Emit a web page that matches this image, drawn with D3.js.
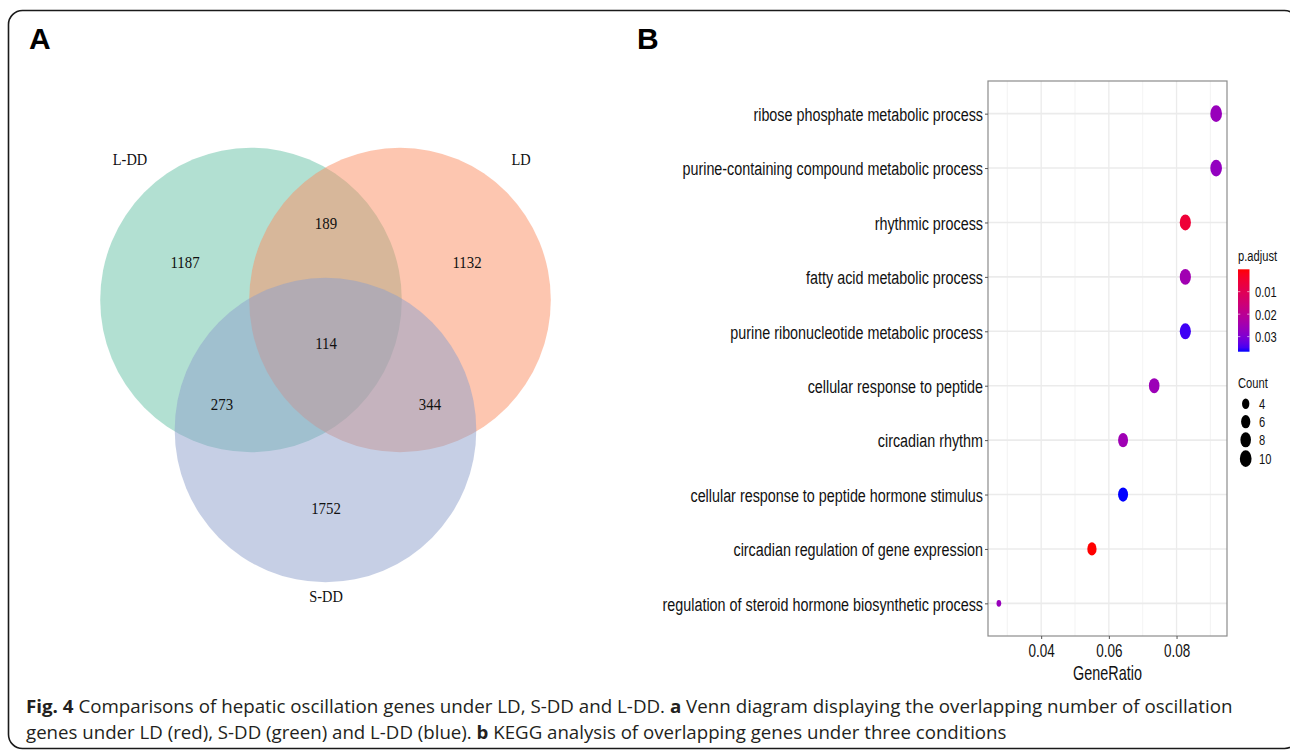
<!DOCTYPE html>
<html>
<head>
<meta charset="utf-8">
<script src="https://cdnjs.cloudflare.com/ajax/libs/d3/7.8.5/d3.min.js"></script>
<style>
  body { margin: 0; background: #fff; }
  svg text { font-family: "Liberation Sans", Arial, sans-serif; }
</style>
</head>
<body>
<div id="chart"></div>
<script>
// ---- data ----
const vennSets = ['L-DD', 'LD', 'S-DD'];
const vennRegions = ['L-DD', 'LD', 'S-DD', 'L-DD&LD', 'L-DD&S-DD', 'LD&S-DD', 'all'];
const vennCounts = [1187, 1132, 1752, 189, 273, 344, 114];

const terms = [
  'ribose phosphate metabolic process',
  'purine-containing compound metabolic process',
  'rhythmic process',
  'fatty acid metabolic process',
  'purine ribonucleotide metabolic process',
  'cellular response to peptide',
  'circadian rhythm',
  'cellular response to peptide hormone stimulus',
  'circadian regulation of gene expression',
  'regulation of steroid hormone biosynthetic process'
];
const geneRatio = [0.0917, 0.0917, 0.0826, 0.0826, 0.0826, 0.0734, 0.0642, 0.0642, 0.0550, 0.0275];
const geneCount = [10, 10, 9, 9, 9, 8, 7, 7, 6, 3];
const pAdjust = [0.0264, 0.0272, 0.0055, 0.0250, 0.0352, 0.0257, 0.0253, 0.0367, 0.00004, 0.0264];

const xTicks = [0.04, 0.06, 0.08];
const xMinor = [0.03, 0.05, 0.07, 0.09];
const pTicks = [0.01, 0.02, 0.03];
const countTicks = [4, 6, 8, 10];

// ---- layout (not data) ----
const W = 1290, H = 751;
const vennCircle = {
  'L-DD': { cx: 251, cy: 300 },
  'LD':   { cx: 400, cy: 300 },
  'S-DD': { cx: 325.5, cy: 430 }
};
const vennName = {   // set name label anchor
  'L-DD': [130, 165], 'LD': [521, 165], 'S-DD': [326, 602]
};
const vennLabel = {
  'L-DD': [185, 268], 'LD': [467, 268], 'S-DD': [326, 514],
  'L-DD&LD': [326, 229], 'L-DD&S-DD': [222, 410], 'LD&S-DD': [430, 410], 'all': [326, 349]
};

const svg = d3.select('#chart').append('svg')
  .attr('width', W)
  .attr('height', H);

svg.append('rect').attr('width', W).attr('height', H).attr('fill', '#fff');

// outer frame
svg.append('rect')
  .attr('x', 8.5).attr('y', 10.5)
  .attr('width', 1290).attr('height', 738)
  .attr('rx', 14).attr('ry', 14)
  .attr('fill', 'none')
  .attr('stroke', '#1a1a1a')
  .attr('stroke-width', 1.6);

// panel letters
svg.append('text').attr('x', 29).attr('y', 49).attr('font-size', 30).attr('font-weight', 'bold').text('A');
svg.append('text').attr('x', 637).attr('y', 49).attr('font-size', 30).attr('font-weight', 'bold').text('B');

//Venn----------------------------------------
const setColor = d3.scaleOrdinal().domain(vennSets).range(d3.schemeSet2);

svg.append('g').selectAll('ellipse')
  .data(vennSets)
  .enter()
  .append('ellipse')
  .attr('cx', d => vennCircle[d].cx)
  .attr('cy', d => vennCircle[d].cy)
  .attr('rx', 150.8)
  .attr('ry', 152.3)
  .attr('fill', d => setColor(d))
  .attr('fill-opacity', 0.5);

const serif = '"Liberation Serif", "Times New Roman", serif';
svg.append('g').selectAll('text')
  .data(vennSets)
  .enter()
  .append('text')
  .attr('transform', d => `translate(${vennName[d][0]},${vennName[d][1]}) scale(0.9,1)`)
  .attr('text-anchor', 'middle')
  .style('font-family', serif)
  .attr('font-size', 16)
  .attr('fill', '#111')
  .text(d => d);

svg.append('g').selectAll('text')
  .data(vennRegions)
  .enter()
  .append('text')
  .attr('transform', d => `translate(${vennLabel[d][0]},${vennLabel[d][1]}) scale(0.9,1)`)
  .attr('text-anchor', 'middle')
  .style('font-family', serif)
  .attr('font-size', 16.5)
  .attr('fill', '#111')
  .text((d, i) => vennCounts[i]);

//Dot plot------------------------------------
const px = { left: 988, right: 1227, top: 81, bottom: 636 };
const sx = 0.755; // glyphs in the source are squeezed horizontally

const xExt = d3.extent(geneRatio);
const span = xExt[1] - xExt[0];
const x = d3.scaleLinear()
  .domain([xExt[0] - 0.05 * span, xExt[1] + 0.05 * span])
  .range([px.left, px.right]);
const y = d3.scalePoint()
  .domain(terms)
  .range([px.top, px.bottom])
  .padding(0.6);
const pExt = d3.extent(pAdjust);
const color = d3.scaleLinear().domain(pExt).range(['red', 'blue']).interpolate(d3.interpolateLab);
const cExt = d3.extent(geneCount);
const sizeT = d3.scaleLinear().domain(cExt).range([0, 1]);
const pointSize = c => 1 + 5 * Math.sqrt(sizeT(c)); // ggplot area scale, range 1..6
const dotH = c => 4.7 + 2 * pointSize(c);

svg.append('rect')
  .attr('x', px.left).attr('y', px.top)
  .attr('width', px.right - px.left).attr('height', px.bottom - px.top)
  .attr('fill', '#fff');

// grid
svg.append('g').selectAll('line')
  .data(xMinor)
  .enter()
  .append('line')
  .attr('x1', d => x(d)).attr('x2', d => x(d))
  .attr('y1', px.top).attr('y2', px.bottom)
  .attr('stroke', '#f0f0f0')
  .attr('stroke-width', 0.8);
svg.append('g').selectAll('line')
  .data(xTicks)
  .enter()
  .append('line')
  .attr('x1', d => x(d)).attr('x2', d => x(d))
  .attr('y1', px.top).attr('y2', px.bottom)
  .attr('stroke', '#ebebeb')
  .attr('stroke-width', 1.3);
svg.append('g').selectAll('line')
  .data(terms)
  .enter()
  .append('line')
  .attr('x1', px.left).attr('x2', px.right)
  .attr('y1', d => y(d)).attr('y2', d => y(d))
  .attr('stroke', '#ebebeb')
  .attr('stroke-width', 1.6);

// dots
svg.append('g').selectAll('ellipse')
  .data(terms)
  .enter()
  .append('ellipse')
  .attr('cx', (d, i) => x(geneRatio[i]))
  .attr('cy', d => y(d))
  .attr('ry', (d, i) => dotH(geneCount[i]) / 2)
  .attr('rx', (d, i) => dotH(geneCount[i]) / 2 * 0.7)
  .attr('fill', (d, i) => color(pAdjust[i]));

// border
svg.append('rect')
  .attr('x', px.left).attr('y', px.top)
  .attr('width', px.right - px.left).attr('height', px.bottom - px.top)
  .attr('fill', 'none')
  .attr('stroke', '#8c8c8c')
  .attr('stroke-width', 1.2);

// X axis
const gx = svg.append('g')
  .attr('transform', `translate(0,${px.bottom})`)
  .call(d3.axisBottom(x).tickValues(xTicks).tickFormat(d3.format('.2f')).tickSize(3).tickPadding(6))
  .attr('font-size', 17.5);
gx.select('.domain').remove();
gx.selectAll('line').attr('stroke', '#555');
gx.selectAll('text').attr('fill', '#111').attr('transform', 'scale(0.77,1)');

// Y axis
const gy = svg.append('g')
  .attr('transform', `translate(${px.left},0)`)
  .call(d3.axisLeft(y).tickSize(3).tickPadding(2))
  .attr('font-size', 19);
gy.select('.domain').remove();
gy.selectAll('line').attr('stroke', '#555');
gy.selectAll('text')
  .attr('fill', '#111')
  .attr('x', -5 / sx)
  .attr('dy', '0.36em')
  .attr('transform', `scale(${sx},1)`);

// X label
svg.append('text')
  .attr('transform', `translate(${(px.left + px.right) / 2},680) scale(0.72,1)`)
  .attr('text-anchor', 'middle')
  .attr('font-size', 20)
  .attr('fill', '#111')
  .text('GeneRatio');

//Legends-------------------------------------
const lx = 1238;
const lfs = 15.5;
svg.append('text')
  .attr('transform', `translate(${lx},260.5) scale(0.72,1)`)
  .attr('font-size', lfs).attr('fill', '#111')
  .text('p.adjust');

const bar = { y0: 269.3, y1: 351.7, w: 11.5 };
const barY = d3.scaleLinear().domain(pExt).range([bar.y0, bar.y1]);
const grad = svg.append('defs').append('linearGradient')
  .attr('id', 'pgrad')
  .attr('x1', 0).attr('x2', 0).attr('y1', 0).attr('y2', 1);
grad.selectAll('stop')
  .data(d3.range(0, 1.0001, 0.05))
  .enter()
  .append('stop')
  .attr('offset', d => d)
  .attr('stop-color', d => color(pExt[0] + d * (pExt[1] - pExt[0])));
svg.append('rect')
  .attr('x', lx).attr('y', bar.y0)
  .attr('width', bar.w).attr('height', bar.y1 - bar.y0)
  .attr('fill', 'url(#pgrad)');
const pt = svg.append('g').selectAll('g')
  .data(pTicks)
  .enter()
  .append('g');
pt.append('line')
  .attr('x1', lx).attr('x2', lx + 2.3)
  .attr('y1', d => barY(d)).attr('y2', d => barY(d))
  .attr('stroke', '#fff').attr('stroke-opacity', 0.6);
pt.append('line')
  .attr('x1', lx + bar.w - 2.3).attr('x2', lx + bar.w)
  .attr('y1', d => barY(d)).attr('y2', d => barY(d))
  .attr('stroke', '#fff').attr('stroke-opacity', 0.6);
pt.append('text')
  .attr('transform', d => `translate(1255,${barY(d) + 5.5}) scale(0.72,1)`)
  .attr('font-size', lfs).attr('fill', '#111')
  .text(d => d3.format('.2f')(d));

svg.append('text')
  .attr('transform', `translate(${lx},388) scale(0.72,1)`)
  .attr('font-size', lfs).attr('fill', '#111')
  .text('Count');

// legend keys grow with the point size
const keyH = countTicks.map(c => Math.max(18, dotH(c) + 3));
let acc = 394.7;
const keyY = keyH.map(h => { const c = acc + h / 2; acc += h; return c; });
const kg = svg.append('g').selectAll('g')
  .data(countTicks)
  .enter()
  .append('g');
kg.append('ellipse')
  .attr('cx', 1245.7)
  .attr('cy', (d, i) => keyY[i])
  .attr('ry', d => dotH(d) / 2)
  .attr('rx', d => dotH(d) / 2 * 0.7)
  .attr('fill', '#000');
kg.append('text')
  .attr('transform', (d, i) => `translate(1259,${keyY[i] + 5.5}) scale(0.72,1)`)
  .attr('font-size', lfs).attr('fill', '#111')
  .text(d => d);

//Caption-------------------------------------
const captionLines = [
  { baseline: 713, width: 1207, parts: [
    ['Fig. 4', true],
    [' Comparisons of hepatic oscillation genes under LD, S-DD and L-DD. ', false],
    ['a', true],
    [' Venn diagram displaying the overlapping number of oscillation', false]
  ] },
  { baseline: 739, width: 981, parts: [
    ['genes under LD (red), S-DD (green) and L-DD (blue). ', false],
    ['b', true],
    [' KEGG analysis of overlapping genes under three conditions', false]
  ] }
];
captionLines.forEach(line => {
  const t = svg.append('text')
    .style('font-family', '"Open Sans", "Noto Sans", sans-serif')
    .style('white-space', 'pre')
    .attr('font-size', 18)
    .attr('fill', '#231f20');
  line.parts.forEach(p => {
    t.append('tspan').attr('font-weight', p[1] ? 'bold' : 'normal').text(p[0]);
  });
  const w = t.node().getComputedTextLength();
  t.attr('transform', `translate(26,${line.baseline}) scale(${line.width / w},1)`);
});
</script>
</body>
</html>
